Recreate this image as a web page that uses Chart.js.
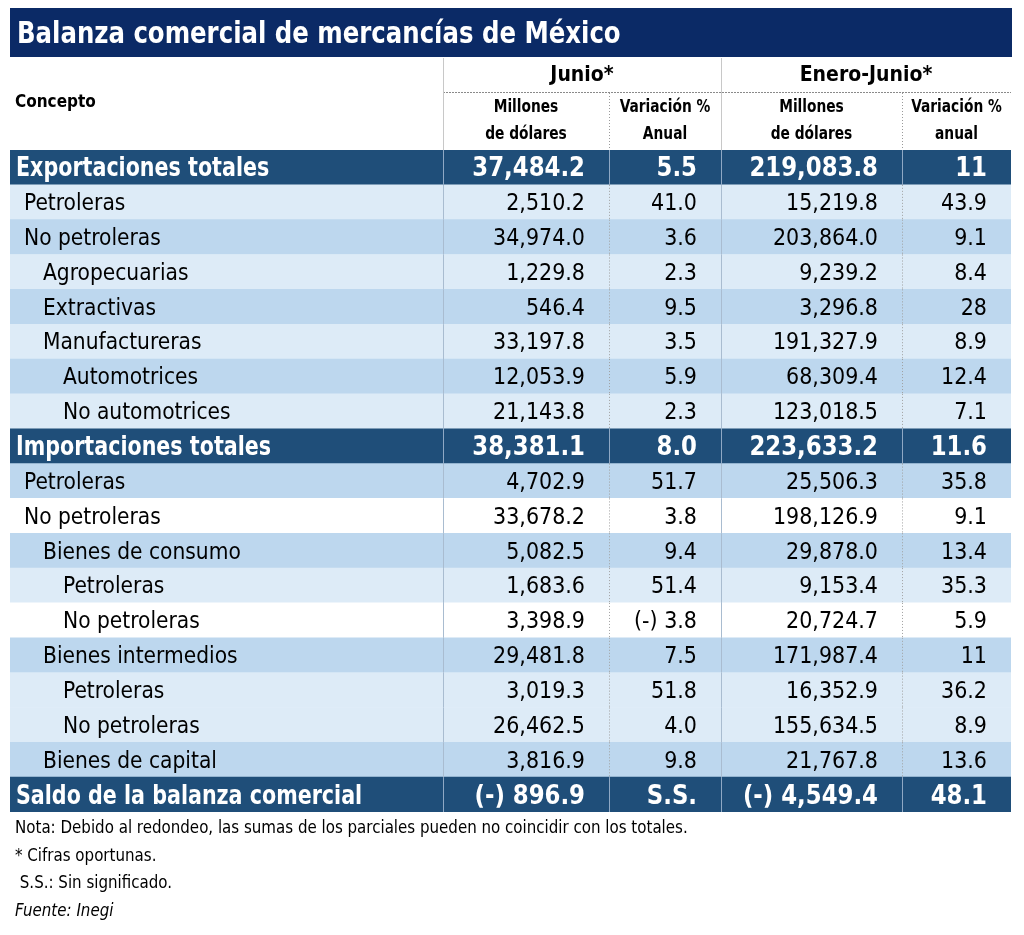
<!DOCTYPE html>
<html>
<head>
<meta charset="utf-8">
<script src="https://cdn.jsdelivr.net/npm/chart.js@4"></script>
<style>
  body { margin: 0; background: #fff; }
  #wrap { width: 1024px; height: 935px; }
</style>
</head>
<body>
<div id="wrap"><canvas id="chart" width="1024" height="935"></canvas></div>
<script>
const concepts = [
    'Exportaciones totales', 'Petroleras', 'No petroleras', 'Agropecuarias', 'Extractivas',
    'Manufactureras', 'Automotrices', 'No automotrices', 'Importaciones totales', 'Petroleras',
    'No petroleras', 'Bienes de consumo', 'Petroleras', 'No petroleras', 'Bienes intermedios',
    'Petroleras', 'No petroleras', 'Bienes de capital', 'Saldo de la balanza comercial'
];
const levels = [0, 1, 1, 2, 2, 2, 3, 3, 0, 1, 1, 2, 3, 3, 2, 3, 3, 2, 0];
const junioMillones = [37484.2, 2510.2, 34974.0, 1229.8, 546.4, 33197.8, 12053.9, 21143.8, 38381.1, 4702.9,
    33678.2, 5082.5, 1683.6, 3398.9, 29481.8, 3019.3, 26462.5, 3816.9, -896.9];
const junioVariacion = [5.5, 41.0, 3.6, 2.3, 9.5, 3.5, 5.9, 2.3, 8.0, 51.7,
    3.8, 9.4, 51.4, -3.8, 7.5, 51.8, 4.0, 9.8, null];
const eneroJunioMillones = [219083.8, 15219.8, 203864.0, 9239.2, 3296.8, 191327.9, 68309.4, 123018.5, 223633.2, 25506.3,
    198126.9, 29878.0, 9153.4, 20724.7, 171987.4, 16352.9, 155634.5, 21767.8, -4549.4];
const eneroJunioVariacion = [11, 43.9, 9.1, 8.4, 28, 8.9, 12.4, 7.1, 11.6, 35.8,
    9.1, 13.4, 35.3, 5.9, 11, 36.2, 8.9, 13.6, 48.1];
const notes = [
    'Nota: Debido al redondeo, las sumas de los parciales pueden no coincidir con los totales.',
    '* Cifras oportunas.',
    ' S.S.: Sin significado.',
    'Fuente: Inegi'
];

// layout: column edges in table units, row shading
const colEdges = [0, 433, 599, 711, 892, 1001];
const rowShade = ['dark', 'light', 'mid', 'light', 'mid', 'light', 'mid', 'light', 'dark', 'mid',
    'white', 'mid', 'light', 'white', 'mid', 'light', 'light', 'mid', 'dark'];
const shadeColor = { dark: '#1f4e79', light: '#ddebf7', mid: '#bdd7ee', white: '#ffffff' };
const FONT = "'Liberation Sans Narrow', 'DejaVu Sans Condensed', 'Roboto', sans-serif";

function fmtNum(v, dec) {
    if (v === null) return 'S.S.';
    const s = Math.abs(v).toLocaleString('en-US', { minimumFractionDigits: dec, maximumFractionDigits: dec });
    return v < 0 ? '(-) ' + s : s;
}
function fmtVar(v) {
    if (v === null) return 'S.S.';
    const s = String(Math.abs(v));
    return v < 0 ? '(-) ' + s : s;
}

const columns = [
    junioMillones.map(v => fmtNum(v, 1)),
    junioVariacion.map(v => fmtNum(v, 1)),
    eneroJunioMillones.map(v => fmtNum(v, 1)),
    eneroJunioVariacion.map(fmtVar)
];

const datasets = colEdges.slice(0, -1).map((e, c) => ({
    label: 'col' + c,
    data: concepts.map(() => [colEdges[c], colEdges[c + 1]]),
    backgroundColor: ctx => shadeColor[rowShade[ctx.dataIndex]],
    borderWidth: 0,
    barPercentage: 1,
    categoryPercentage: 1,
    grouped: false
}));

// text squeezed horizontally to get closer to the condensed face of the original
function txt(c, s, x, y, align, sx) {
    c.save();
    c.translate(x, y);
    c.scale(sx, 1);
    c.textAlign = align;
    c.fillText(s, 0, 0);
    c.restore();
}

const tablePlugin = {
    id: 'tableText',
    beforeDraw(chart) {
        const c = chart.ctx;
        c.save();
        c.fillStyle = '#fff';
        c.fillRect(0, 0, chart.width, chart.height);
        c.restore();
    },
    afterDatasetsDraw(chart) {
        const c = chart.ctx;
        const xs = chart.scales.x, ys = chart.scales.y;
        const area = chart.chartArea;
        const X = v => xs.getPixelForValue(v);
        const rowH = ys.getPixelForValue(1) - ys.getPixelForValue(0);
        c.save();
        c.textBaseline = 'middle';

        // title bar
        c.fillStyle = '#0b2a66';
        c.fillRect(X(0), 8, X(colEdges[5]) - X(0) + 1, 49);
        c.fillStyle = '#fff';
        c.font = 'bold 31px ' + FONT;
        txt(c, 'Balanza comercial de mercancías de México', X(0) + 7, 35, 'left', 0.875);

        // header
        c.fillStyle = '#000';
        c.font = 'bold 17px ' + FONT;
        txt(c, 'Concepto', X(0) + 5, 103, 'left', 1);
        c.font = 'bold 21px ' + FONT;
        txt(c, 'Junio*', (X(colEdges[1]) + X(colEdges[3])) / 2, 76, 'center', 1);
        txt(c, 'Enero-Junio*', (X(colEdges[3]) + X(colEdges[5])) / 2, 76, 'center', 1);
        c.font = 'bold 17px ' + FONT;
        const sub = [['Millones', 'de dólares'], ['Variación %', 'Anual'], ['Millones', 'de dólares'], ['Variación %', 'anual']];
        sub.forEach((s, i) => {
            const cx = (X(colEdges[i + 1]) + X(colEdges[i + 2])) / 2;
            txt(c, s[0], cx, 108, 'center', 0.9);
            txt(c, s[1], cx, 135, 'center', 0.9);
        });
        c.strokeStyle = '#8a8a8a';
        c.lineWidth = 1;
        c.setLineDash([2, 1]);
        c.beginPath();
        c.moveTo(X(colEdges[1]), 92.5); c.lineTo(X(colEdges[5]), 92.5);
        c.stroke();
        c.setLineDash([]);
        c.strokeStyle = '#c8c8c8';
        [1, 3].forEach(k => {
            const x = Math.round(X(colEdges[k])) + 0.5;
            c.beginPath(); c.moveTo(x, 58); c.lineTo(x, area.top); c.stroke();
        });
        c.setLineDash([1, 2]);
        c.strokeStyle = '#9a9a9a';
        [2, 4].forEach(k => {
            const x = Math.round(X(colEdges[k])) + 0.5;
            c.beginPath(); c.moveTo(x, 93); c.lineTo(x, area.top); c.stroke();
        });
        c.setLineDash([]);

        // row separators and text
        const indent = [6, 14, 33, 53];
        concepts.forEach((name, i) => {
            const y = ys.getPixelForValue(i);
            const top = y - rowH / 2, bot = y + rowH / 2;
            const dark = rowShade[i] === 'dark';
            [1, 2, 3, 4].forEach(k => {
                const x = Math.round(X(colEdges[k])) + 0.5;
                if (dark) { c.strokeStyle = '#8fa8c4'; c.setLineDash([]); }
                else if (k % 2) { c.strokeStyle = '#a9bcd0'; c.setLineDash([]); }
                else { c.strokeStyle = '#a0a0a0'; c.setLineDash([1, 2]); }
                c.beginPath(); c.moveTo(x, top); c.lineTo(x, bot); c.stroke();
            });
            c.setLineDash([]);
            c.fillStyle = dark ? '#fff' : '#000';
            c.font = (dark ? 'bold 27px ' : '22.5px ') + FONT;
            txt(c, name, X(0) + indent[levels[i]], y + 2, 'left', dark ? 0.85 : 1);
            columns.forEach((col, k) => {
                txt(c, col[i], X(colEdges[k + 2]) - 24, y + 2, 'right', dark ? 0.94 : 1.02);
            });
        });

        // notes
        c.fillStyle = '#000';
        notes.forEach((t, i) => {
            c.font = (i === 3 ? 'italic ' : '') + '17px ' + FONT;
            txt(c, t, X(0) + 5, area.bottom + 17 + i * 27.5, 'left', 0.985);
        });
        c.restore();
    }
};

const config = {
    type: 'bar',
    data: { labels: concepts, datasets: datasets },
    options: {
        indexAxis: 'y',
        responsive: false,
        animation: false,
        events: [],
        layout: { padding: { left: 10, right: 13, top: 150, bottom: 123 } },
        plugins: { legend: { display: false }, title: { display: false }, tooltip: { enabled: false } },
        scales: {
            x: { type: 'linear', min: colEdges[0], max: colEdges[5], display: false },
            y: { type: 'category', display: false, offset: true }
        }
    },
    plugins: [tablePlugin]
};

var chart = new Chart(document.getElementById('chart'), config);
</script>
</body>
</html>
